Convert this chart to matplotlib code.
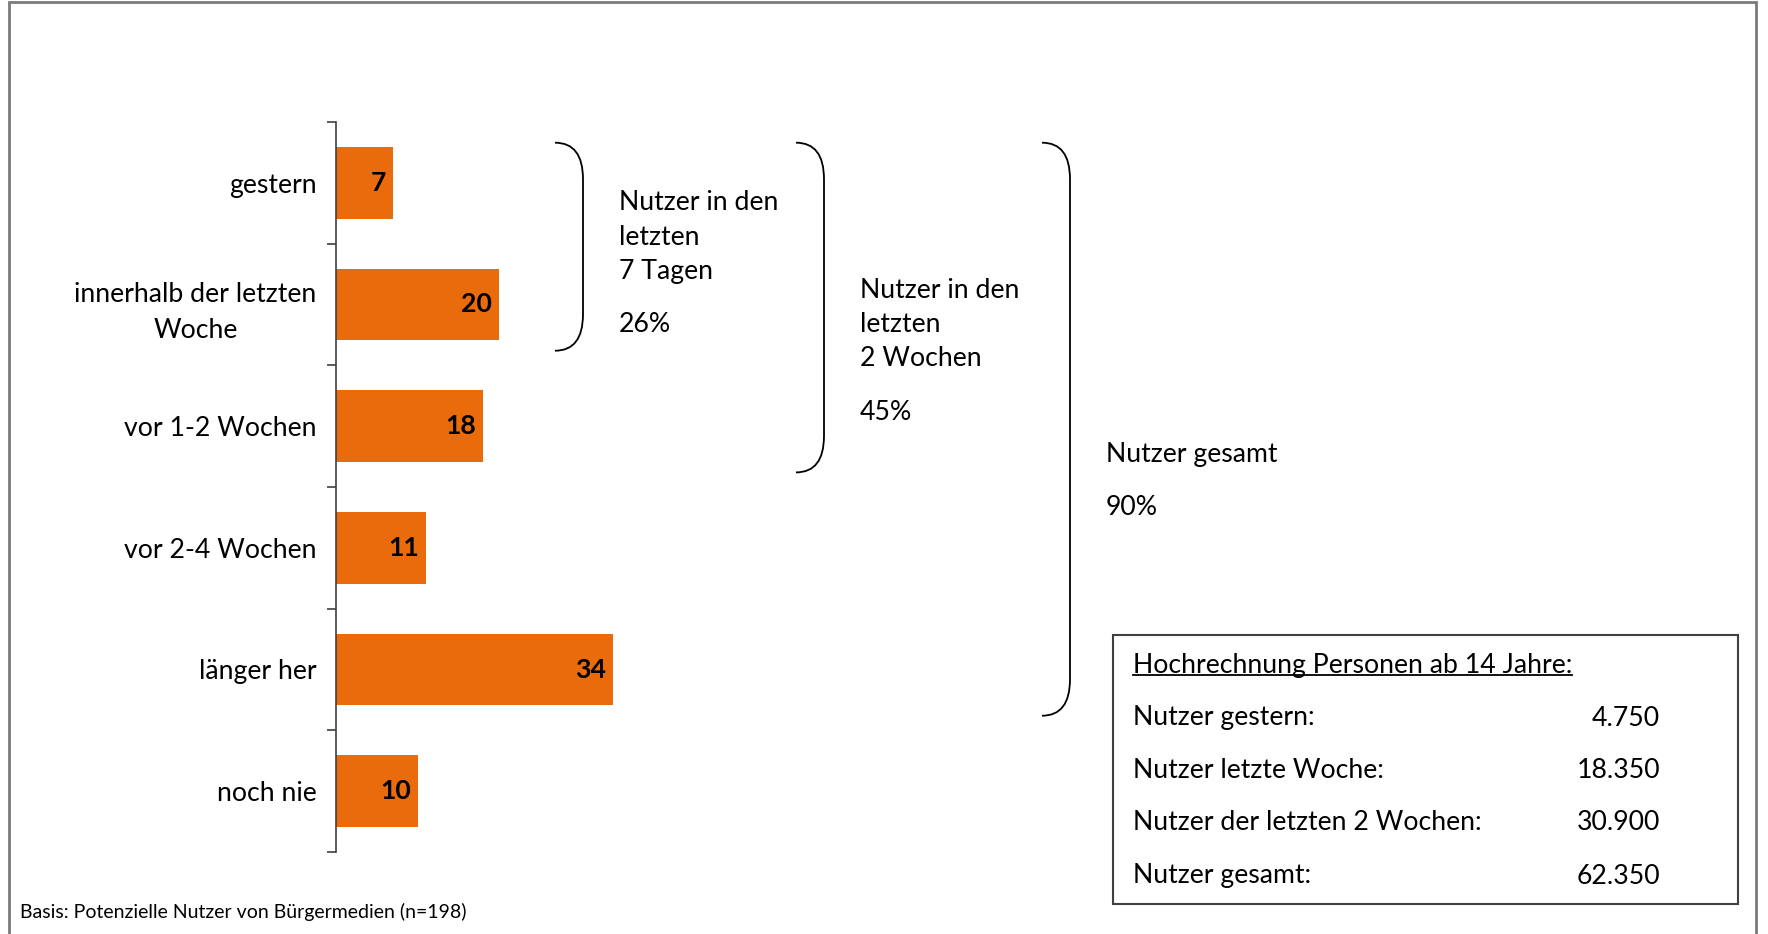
import matplotlib
matplotlib.use('Agg')
import matplotlib.pyplot as plt
from matplotlib.path import Path
from matplotlib.patches import PathPatch, Rectangle
from matplotlib.lines import Line2D
from matplotlib.transforms import blended_transform_factory

# ---------------- data ----------------
categories = ["gestern", "innerhalb der letzten\nWoche", "vor 1-2 Wochen",
              "vor 2-4 Wochen", "länger her", "noch nie"]
values = [7, 20, 18, 11, 34, 10]

group_labels = ["Nutzer in den\nletzten\n7 Tagen", "Nutzer in den\nletzten\n2 Wochen", "Nutzer gesamt"]
group_shares = ["26%", "45%", "90%"]
group_last_cat = [1, 2, 4]   # last category index covered by each bracket

box_title = "Hochrechnung Personen ab 14 Jahre:"
box_labels = ["Nutzer gestern:", "Nutzer letzte Woche:",
              "Nutzer der letzten 2 Wochen:", "Nutzer gesamt:"]
box_values = ["4.750", "18.350", "30.900", "62.350"]

footnote = "Basis: Potenzielle Nutzer von Bürgermedien (n=198)"

# ---------------- style ----------------
W, H = 1768, 934
plt.rcParams['font.family'] = ['Lato', 'DejaVu Sans']
FS = 19.2
BAR_COLOR = '#EA6B0C'

fig = plt.figure(figsize=(W / 100, H / 100), dpi=100)
fig.patch.set_facecolor('white')

def fx(x):
    return x / W

def fy(y):
    return 1 - y / H

# outer frame
fig.patches.append(Rectangle((fx(9), fy(940)), fx(1756) - fx(9), fy(2) - fy(940),
                             transform=fig.transFigure, fill=False,
                             edgecolor='#7a7a7a', lw=2))

# axes for bars
ax_left, ax_top, ax_bottom = 336, 122, 852
ax_w = 8.16 * 40
ax = fig.add_axes([fx(ax_left), fy(ax_bottom), ax_w / W, (ax_bottom - ax_top) / H])
n = len(categories)
ypos = list(range(n))
ax.barh(ypos, values, height=0.59, color=BAR_COLOR)
ax.set_xlim(0, 40)
ax.set_ylim(n - 0.5, -0.5)
for s in ['top', 'right', 'bottom']:
    ax.spines[s].set_visible(False)
ax.spines['left'].set_color('#404040')
ax.spines['left'].set_linewidth(1.2)
ax.set_xticks([])
ax.set_yticks(ypos)
ax.set_yticklabels(categories, fontsize=FS, multialignment='center', linespacing=1.55)
ax.tick_params(axis='y', which='major', length=0, pad=14)
ax.set_yticks([i - 0.5 for i in range(n + 1)], minor=True)
ax.tick_params(axis='y', which='minor', length=6.5, width=1.2, color='#404040')
ax.patch.set_alpha(0)

for y, v in zip(ypos, values):
    ax.annotate(str(v), (v, y), xytext=(-5, 0), textcoords='offset points',
                ha='right', va='center', fontsize=FS, fontweight='bold', color='black')

# brackets
trans = blended_transform_factory(fig.transFigure, ax.transData)
brace_x0 = [555, 796, 1042]
brace_w = 28
for i, last in enumerate(group_last_cat):
    x0 = fx(brace_x0[i])
    x1 = fx(brace_x0[i] + brace_w)
    ytop = -0.33
    ybot = last + 0.38
    r = 0.3
    verts = [(x0, ytop), (x1, ytop), (x1, ytop + r),
             (x1, ybot - r),
             (x1, ybot), (x0, ybot)]
    codes = [Path.MOVETO, Path.CURVE3, Path.CURVE3, Path.LINETO, Path.CURVE3, Path.CURVE3]
    fig.patches.append(PathPatch(Path(verts, codes), transform=trans, fill=False,
                                 edgecolor='black', lw=1.3))

# group texts
text_x = [619, 860, 1106]
text_y0 = [203, 290, 403 * 1.1276]
line_step = 34.5
for i, (lab, share) in enumerate(zip(group_labels, group_shares)):
    lines = lab.split('\n')
    for j, ln in enumerate(lines):
        fig.text(fx(text_x[i]), fy(text_y0[i] + j * line_step), ln,
                 fontsize=FS, ha='left', va='center')
    fig.text(fx(text_x[i]), fy(text_y0[i] + (len(lines) - 1) * line_step + 53), share,
             fontsize=FS, ha='left', va='center')

# box
bx0, by0, bx1, by1 = 1113, 635, 1738, 904
fig.patches.append(Rectangle((fx(bx0), fy(by1)), fx(bx1) - fx(bx0), fy(by0) - fy(by1),
                             transform=fig.transFigure, fill=False,
                             edgecolor='#404040', lw=1.5))
title = fig.text(fx(1133), fy(665), box_title, fontsize=FS, ha='left', va='center')
row_y = [718, 771, 823, 876]
for lab, val, y in zip(box_labels, box_values, row_y):
    fig.text(fx(1133), fy(y), lab, fontsize=FS, ha='left', va='center')
    fig.text(fx(1660), fy(y), val, fontsize=FS, ha='right', va='center')

# footnote
fig.text(fx(20), fy(912), footnote, fontsize=14, ha='left', va='center')

# underline title
fig.canvas.draw()
bb = title.get_window_extent(renderer=fig.canvas.get_renderer())
uy = bb.y0 + 3
fig.lines.append(Line2D([bb.x0 / W, bb.x1 / W], [uy / H, uy / H],
                        transform=fig.transFigure, color='black', lw=1.3))

fig.savefig('out.png', dpi=100, facecolor='white')
